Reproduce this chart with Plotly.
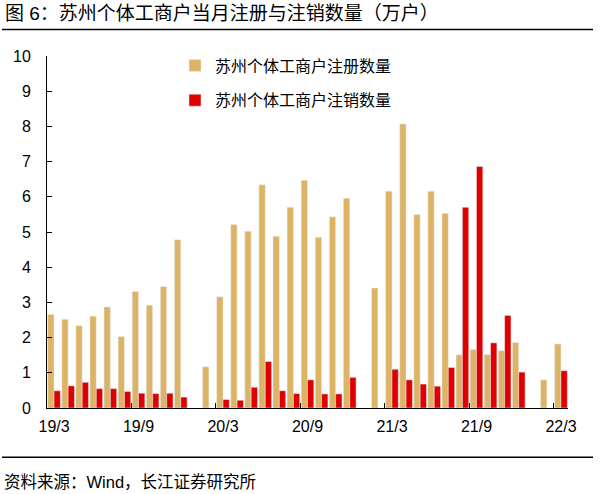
import plotly.graph_objects as go

# Months 2019/3 .. 2022/3
months = []
for y in (19, 20, 21, 22):
    for m in range(1, 13):
        if (y == 19 and m < 3) or (y == 22 and m > 3):
            continue
        months.append(f"{y}/{m}")

register = [2.66, 2.52, 2.34, 2.61, 2.87, 2.03, 3.31, 2.92, 3.45, 4.78,
            None, 1.17, 3.16, 5.21, 5.02, 6.34, 4.88, 5.70, 6.47, 4.85, 5.43, 5.96,
            None, 3.41, 6.16, 8.07, 5.50, 6.16, 5.53, 1.51, 1.66, 1.52, 1.63, 1.86,
            None, 0.80, 1.82]
cancel = [0.49, 0.63, 0.73, 0.55, 0.55, 0.47, 0.42, 0.41, 0.42, 0.31,
          None, None, 0.24, 0.22, 0.59, 1.32, 0.49, 0.41, 0.80, 0.40, 0.40, 0.87,
          None, None, 1.10, 0.80, 0.68, 0.62, 1.15, 5.70, 6.86, 1.85, 2.63, 1.02,
          None, None, 1.06]
tick_labels = ["19/3", "19/9", "20/3", "20/9", "21/3", "21/9", "22/3"]

name_reg = "苏州个体工商户注册数量"
name_can = "苏州个体工商户注销数量"
gold = "#DDB466"
red = "#E00000"

FONT = "Liberation Sans, Arial, Noto Sans CJK SC, sans-serif"

fig = go.Figure()
fig.add_trace(go.Bar(x=months, y=register, name=name_reg, marker_color=gold,
                     legendgroup="a"))
fig.add_trace(go.Bar(x=months, y=cancel, name=name_can, marker_color=red,
                     legendgroup="b"))

L, R, T, B = 47, 568, 56, 408
W, H = R - L, B - T

def px(x):
    return (x - L) / W

def py(y):
    return (B - y) / H

fig.update_layout(
    width=600, height=494,
    margin=dict(l=L, r=600 - R, t=T, b=494 - B, pad=0, autoexpand=False),
    paper_bgcolor="white", plot_bgcolor="white",
    font=dict(family=FONT, size=16, color="black"),
    barmode="group", bargap=0.1, bargroupgap=0,
    showlegend=True,
    legend=dict(x=px(175), y=py(48.5), xanchor="left", yanchor="top",
                traceorder="grouped", tracegroupgap=11,
                font=dict(size=16, family=FONT), bgcolor="rgba(0,0,0,0)"),
    xaxis=dict(type="category", range=[-0.5, len(months) - 0.5],
               tickmode="array", tickvals=tick_labels, ticktext=tick_labels,
               tickson="boundaries", ticks="inside", ticklen=5, tickcolor="black",
               showline=True, linecolor="black", linewidth=1, showgrid=False,
               tickangle=0, automargin=False,
               tickfont=dict(size=16), ticklabelstandoff=4),
    yaxis=dict(range=[0, 10], dtick=1, tick0=0, ticks="inside", ticklen=5,
               tickcolor="black", showline=True, linecolor="black", linewidth=1,
               showgrid=False, zeroline=False, tickfont=dict(size=16),
               automargin=False, ticklabelstandoff=12),
    shapes=[
        dict(type="line", xref="paper", yref="paper", x0=px(2), x1=px(593),
             y0=py(29.5), y1=py(29.5), line=dict(color="black", width=1.5)),
        dict(type="line", xref="paper", yref="paper", x0=px(2), x1=px(593),
             y0=py(457.3), y1=py(457.3), line=dict(color="black", width=1.5)),
    ],
    annotations=[
        dict(text="图 6：苏州个体工商户当月注册与注销数量（万户）", xref="paper", yref="paper",
             x=px(3), y=py(14), xanchor="left", yanchor="middle", showarrow=False,
             font=dict(size=19, family=FONT, color="black")),
        dict(text="资料来源：Wind，长江证券研究所", xref="paper", yref="paper",
             x=px(2), y=py(481.5), xanchor="left", yanchor="middle", showarrow=False,
             font=dict(size=16.5, family=FONT, color="black")),
    ],
)

fig.write_html("out.html", config={"displayModeBar": False},
               post_script="document.body.style.margin='0';document.body.style.padding='0';")
